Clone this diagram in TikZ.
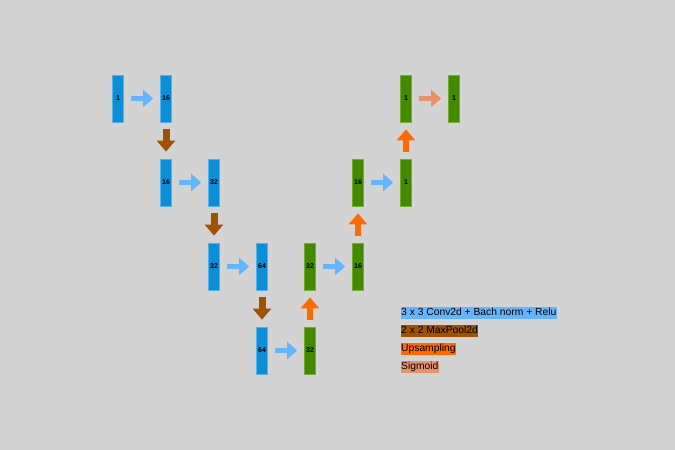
\documentclass[tikz,border=0pt]{standalone}
\usepackage{fontspec}
\setmainfont{Liberation Sans}
\usetikzlibrary{arrows.meta}
\definecolor{bg}{RGB}{211,211,211}
\definecolor{encfill}{RGB}{12,142,214}
\definecolor{encdraw}{RGB}{80,178,238}
\definecolor{decfill}{RGB}{69,137,0}
\definecolor{decdraw}{RGB}{112,172,52}
\definecolor{convc}{RGB}{102,180,252}
\definecolor{poolc}{RGB}{160,82,0}
\definecolor{upc}{RGB}{255,106,0}
\definecolor{sigc}{RGB}{232,145,110}
\tikzset{
  bar/.style={draw, line width=0.8pt, minimum width=11pt, minimum height=47pt, inner sep=0pt,
    font=\fontsize{7}{7}\selectfont\bfseries, text=black},
  enc/.style={bar, fill=encfill, draw=encdraw},
  dec/.style={bar, fill=decfill, draw=decdraw},
  blockarrow/.style={line width=5.5pt, shorten <=7pt, shorten >=7pt,
    -{Triangle[width=17pt,length=10pt]}},
  convarrow/.style={blockarrow, draw=convc, color=convc},
  poolarrow/.style={blockarrow, line width=7pt, draw=poolc, color=poolc, -{Triangle[width=18pt,length=11pt]}},
  uparrow/.style={blockarrow, line width=6.5pt, draw=upc, color=upc, -{Triangle[width=18pt,length=11pt]}},
  sigarrow/.style={blockarrow, draw=sigc, color=sigc},
  legend/.style={anchor=west, inner xsep=0.5pt, inner ysep=0.8pt, text height=7.8pt, text depth=2.3pt,
    font=\fontsize{10.3}{10.3}\selectfont, text=black}
}
\begin{document}
\begin{tikzpicture}[x=1pt,y=-1pt]
\fill[bg] (0,0) rectangle (675,450);
\useasboundingbox (0,0) rectangle (675,450);
% encoder
\node[enc] (a1) at (118,98.5) {1};
\node[enc] (a2) at (166,98.5) {16};
\node[enc] (b1) at (166,182.5) {16};
\node[enc] (b2) at (214,182.5) {32};
\node[enc] (c1) at (214,266.5) {32};
\node[enc] (c2) at (262,266.5) {64};
\node[enc] (d1) at (262,350.5) {64};
% decoder
\node[dec] (d2) at (310,350.5) {32};
\node[dec] (c3) at (310,266.5) {32};
\node[dec] (c4) at (358,266.5) {16};
\node[dec] (b3) at (358,182.5) {16};
\node[dec] (b4) at (406,182.5) {1};
\node[dec] (a3) at (406,98.5) {1};
\node[dec] (a4) at (454,98.5) {1};
% conv arrows
\draw[convarrow] (a1) -- (a2);
\draw[convarrow] (b1) -- (b2);
\draw[convarrow] (c1) -- (c2);
\draw[convarrow] (d1) -- (d2);
\draw[convarrow] (c3) -- (c4);
\draw[convarrow] (b3) -- (b4);
% pooling
\draw[poolarrow] (a2) -- (b1);
\draw[poolarrow] (b2) -- (c1);
\draw[poolarrow] (c2) -- (d1);
% upsampling
\draw[uparrow] (d2) -- (c3);
\draw[uparrow] (c4) -- (b3);
\draw[uparrow] (b4) -- (a3);
% sigmoid
\draw[sigarrow] (a3) -- (a4);
% legend
\node[legend, fill=convc] (l1) at (400.5,313) {3 x 3 Conv2d + Bach norm + Relu};
\node[legend, fill=poolc] (l2) at (400.5,331) {2 x 2 MaxPool2d};
\node[legend, fill=upc] (l3) at (400.5,349) {Upsampling};
\node[legend, fill=sigc] (l4) at (400.5,367) {Sigmoid};
\end{tikzpicture}
\end{document}
